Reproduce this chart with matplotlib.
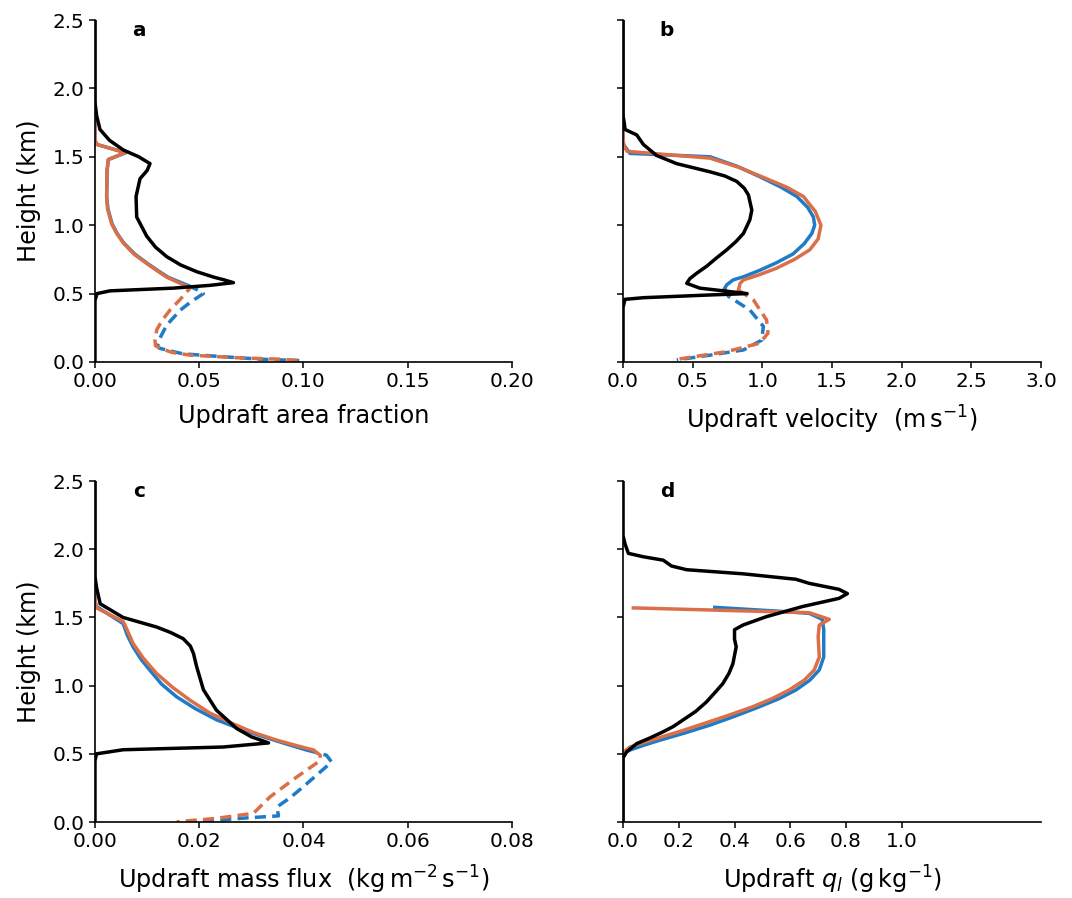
import matplotlib
matplotlib.use("Agg")
import matplotlib.pyplot as plt

# colours of the two model runs
blue = '#1f7bc6'
orange = '#da6f48'

# ---- panel a: updraft area fraction ----
a_black_h = [2.5, 1.90, 1.80, 1.70, 1.62, 1.55, 1.50, 1.45, 1.40, 1.34, 1.21, 1.06, 0.92, 0.84, 0.77, 0.71, 0.66, 0.62, 0.60, 0.58, 0.56, 0.54, 0.52, 0.50, 0.45, 0.0]
a_black_x = [0.0, 0.0, 0.0008, 0.0024, 0.007, 0.0136, 0.021, 0.0264, 0.025, 0.0216, 0.0197, 0.020, 0.0248, 0.029, 0.0344, 0.041, 0.0488, 0.057, 0.062, 0.0664, 0.055, 0.0376, 0.0072, 0.001, 0.0, 0.0]
a_blue_h = [2.5, 1.62, 1.59, 1.53, 1.48, 1.40, 1.21, 1.12, 1.01, 0.94, 0.87, 0.79, 0.72, 0.67, 0.62, 0.56]
a_blue_x = [0, 0, 0.001, 0.0148, 0.0064, 0.0058, 0.0056, 0.0062, 0.0082, 0.0106, 0.0138, 0.019, 0.0252, 0.030, 0.0350, 0.0445]
a_blue_dash_h = [0.56, 0.53, 0.50, 0.44, 0.38, 0.27, 0.17, 0.12, 0.10, 0.06, 0.04, 0.02, 0.01]
a_blue_dash_x = [0.0445, 0.0488, 0.052, 0.046, 0.041, 0.0344, 0.031, 0.030, 0.031, 0.042, 0.060, 0.080, 0.098]
a_orange_h = [2.5, 1.62, 1.59, 1.53, 1.48, 1.40, 1.21, 1.12, 1.01, 0.94, 0.87, 0.79, 0.72, 0.67, 0.62, 0.56]
a_orange_x = [0, 0, 0.001, 0.0144, 0.0064, 0.0058, 0.0056, 0.006, 0.008, 0.0104, 0.0136, 0.0186, 0.0248, 0.0295, 0.0344, 0.043]
a_orange_dash_h = [0.56, 0.54, 0.46, 0.38, 0.30, 0.234, 0.16, 0.12, 0.10, 0.07, 0.05, 0.03, 0.02, 0.01]
a_orange_dash_x = [0.043, 0.0456, 0.041, 0.036, 0.032, 0.0296, 0.0288, 0.029, 0.031, 0.037, 0.0456, 0.0696, 0.0895, 0.099]

# ---- panel b: updraft velocity ----
b_black_h = [2.5, 1.80, 1.74, 1.70, 1.66, 1.59, 1.51, 1.45, 1.39, 1.36, 1.32, 1.27, 1.22, 1.11, 1.04, 0.94, 0.88, 0.82, 0.76, 0.70, 0.65, 0.61, 0.575, 0.54, 0.50, 0.49, 0.47, 0.458, 0.40, 0.0]
b_black_x = [0, 0, 0.01, 0.014, 0.098, 0.146, 0.24, 0.385, 0.625, 0.73, 0.816, 0.87, 0.90, 0.924, 0.91, 0.864, 0.81, 0.744, 0.67, 0.60, 0.53, 0.48, 0.457, 0.55, 0.89, 0.625, 0.146, 0.014, 0, 0]
b_blue_h = [2.5, 1.60, 1.58, 1.525, 1.50, 1.43, 1.355, 1.28, 1.21, 1.13, 1.06, 1.0, 0.94, 0.865, 0.79, 0.725, 0.67, 0.625, 0.60, 0.565, 0.54]
b_blue_x = [0, 0, 0.01, 0.05, 0.625, 0.82, 0.98, 1.13, 1.247, 1.325, 1.366, 1.375, 1.355, 1.30, 1.22, 1.10, 0.98, 0.87, 0.79, 0.745, 0.73]
b_blue_dash_h = [0.54, 0.48, 0.38, 0.26, 0.16, 0.088, 0.05, 0.015]
b_blue_dash_x = [0.73, 0.756, 0.91, 1.007, 0.995, 0.864, 0.625, 0.385]
b_orange_h = [2.5, 1.62, 1.57, 1.54, 1.49, 1.42, 1.34, 1.275, 1.21, 1.10, 1.0, 0.90, 0.82, 0.75, 0.685, 0.635, 0.60, 0.575, 0.526]
b_orange_x = [0, 0, 0.01, 0.03, 0.625, 0.84, 1.03, 1.18, 1.294, 1.38, 1.42, 1.40, 1.34, 1.23, 1.10, 0.97, 0.864, 0.84, 0.828]
b_orange_dash_h = [0.526, 0.453, 0.307, 0.21, 0.137, 0.075, 0.015]
b_orange_dash_x = [0.828, 0.936, 1.03, 1.04, 0.98, 0.74, 0.36]

# ---- panel c: updraft mass flux ----
c_black_h = [2.5, 1.80, 1.72, 1.60, 1.50, 1.43, 1.39, 1.345, 1.29, 1.235, 1.14, 0.97, 0.82, 0.685, 0.625, 0.58, 0.55, 0.53, 0.50, 0.45, 0.0]
c_black_x = [0, 0, 0.0003, 0.001, 0.0054, 0.0118, 0.0145, 0.0169, 0.0183, 0.0189, 0.0195, 0.0208, 0.0233, 0.0272, 0.030, 0.0333, 0.0246, 0.0054, 0.0003, 0, 0]
c_blue_h = [2.5, 1.62, 1.58, 1.455, 1.37, 1.285, 1.195, 1.11, 1.01, 0.917, 0.83, 0.75, 0.685, 0.625, 0.575, 0.528]
c_blue_x = [0, 0, 0.0003, 0.0054, 0.0062, 0.0073, 0.0088, 0.0106, 0.0128, 0.0157, 0.0193, 0.0233, 0.0277, 0.0323, 0.0365, 0.0406]
c_blue_dash_h = [0.528, 0.49, 0.44, 0.35, 0.26, 0.18, 0.11, 0.045, 0.03, 0.015, 0.002]
c_blue_dash_x = [0.0406, 0.0444, 0.0454, 0.0427, 0.040, 0.0375, 0.0349, 0.0352, 0.029, 0.024, 0.0189]
c_orange_h = [2.5, 1.62, 1.57, 1.47, 1.44, 1.31, 1.20, 1.09, 0.99, 0.894, 0.80, 0.72, 0.655, 0.60, 0.562, 0.528]
c_orange_x = [0, 0, 0.0003, 0.0054, 0.0058, 0.0073, 0.0093, 0.0118, 0.0148, 0.0182, 0.022, 0.0265, 0.0305, 0.0349, 0.0385, 0.0419]
c_orange_dash_h = [0.528, 0.49, 0.45, 0.33, 0.185, 0.064, 0.027, 0.002]
c_orange_dash_x = [0.0419, 0.0432, 0.0432, 0.0387, 0.0336, 0.0304, 0.0233, 0.0157]

# ---- panel d: updraft liquid water ----
d_black_h = [2.5, 2.10, 2.04, 1.97, 1.945, 1.92, 1.877, 1.85, 1.82, 1.78, 1.75, 1.706, 1.675, 1.64, 1.58, 1.505, 1.444, 1.41, 1.34, 1.285, 1.16, 1.09, 1.015, 0.95, 0.88, 0.81, 0.748, 0.70, 0.662, 0.615, 0.575, 0.515, 0.47, 0.40, 0.0]
d_black_x = [0, 0, 0.007, 0.019, 0.0725, 0.144, 0.174, 0.228, 0.43, 0.62, 0.668, 0.775, 0.805, 0.775, 0.644, 0.513, 0.43, 0.40, 0.40, 0.406, 0.394, 0.38, 0.358, 0.33, 0.299, 0.26, 0.215, 0.18, 0.144, 0.095, 0.049, 0.013, 0.0, 0, 0]
d_blue_h = [1.574, 1.547, 1.53, 1.486, 1.41, 1.21, 1.115, 1.04, 0.968, 0.905, 0.845, 0.775, 0.71, 0.652, 0.60, 0.56, 0.528, 0.50, 0.45, 0.0]
d_blue_x = [0.329, 0.549, 0.668, 0.715, 0.72, 0.72, 0.704, 0.67, 0.62, 0.56, 0.489, 0.40, 0.311, 0.22, 0.132, 0.07, 0.025, 0.0, 0, 0]
d_orange_h = [1.57, 1.535, 1.486, 1.444, 1.36, 1.21, 1.115, 1.04, 0.968, 0.905, 0.845, 0.78, 0.72, 0.668, 0.62, 0.58, 0.55, 0.51, 0.45, 0.0]
d_orange_x = [0.037, 0.668, 0.74, 0.704, 0.70, 0.704, 0.686, 0.65, 0.596, 0.535, 0.465, 0.375, 0.287, 0.21, 0.132, 0.07, 0.025, 0, 0, 0]

lw = 2.5
dash = (0, (3.2, 1.8))


def style_ax(ax, xlim, xticks, xlabel, ylabel=True):
    ax.set_xlim(*xlim)
    ax.set_ylim(0, 2.5)
    ax.set_xticks(xticks)
    ax.set_yticks([0.0, 0.5, 1.0, 1.5, 2.0, 2.5])
    ax.spines['top'].set_visible(False)
    ax.spines['right'].set_visible(False)
    for s in ['left', 'bottom']:
        ax.spines[s].set_linewidth(1.2)
    ax.tick_params(labelsize=14.4, length=4.5, width=1.1, pad=3)
    ax.set_xlabel(xlabel, fontsize=17.3, labelpad=9)
    if ylabel:
        ax.set_ylabel('Height (km)', fontsize=17.3, labelpad=8)
    else:
        ax.tick_params(labelleft=False)


fig = plt.figure(figsize=(10.72, 8.98), dpi=100)
ax_a = fig.add_axes([0.0886, 0.5969, 0.389, 0.3808])
ax_b = fig.add_axes([0.5812, 0.5969, 0.39, 0.3808])
ax_c = fig.add_axes([0.0886, 0.0846, 0.389, 0.3797])
ax_d = fig.add_axes([0.5812, 0.0846, 0.39, 0.3797])

# a
ax_a.plot(a_blue_x, a_blue_h, color=blue, lw=lw)
ax_a.plot(a_blue_dash_x, a_blue_dash_h, color=blue, lw=lw, ls=dash)
ax_a.plot(a_orange_x, a_orange_h, color=orange, lw=lw)
ax_a.plot(a_orange_dash_x, a_orange_dash_h, color=orange, lw=lw, ls=dash)
ax_a.plot(a_black_x, a_black_h, color='k', lw=lw)
style_ax(ax_a, (0, 0.2), [0, 0.05, 0.10, 0.15, 0.20], 'Updraft area fraction')
ax_a.set_xticklabels(['0.00', '0.05', '0.10', '0.15', '0.20'])

# b
ax_b.plot(b_blue_x, b_blue_h, color=blue, lw=lw)
ax_b.plot(b_blue_dash_x, b_blue_dash_h, color=blue, lw=lw, ls=dash)
ax_b.plot(b_orange_x, b_orange_h, color=orange, lw=lw)
ax_b.plot(b_orange_dash_x, b_orange_dash_h, color=orange, lw=lw, ls=dash)
ax_b.plot(b_black_x, b_black_h, color='k', lw=lw)
style_ax(ax_b, (0, 3.0), [0, 0.5, 1.0, 1.5, 2.0, 2.5, 3.0],
         r'Updraft velocity  $\mathrm{(m\,s^{-1})}$', ylabel=False)

# c
ax_c.plot(c_blue_x, c_blue_h, color=blue, lw=lw)
ax_c.plot(c_blue_dash_x, c_blue_dash_h, color=blue, lw=lw, ls=dash)
ax_c.plot(c_orange_x, c_orange_h, color=orange, lw=lw)
ax_c.plot(c_orange_dash_x, c_orange_dash_h, color=orange, lw=lw, ls=dash)
ax_c.plot(c_black_x, c_black_h, color='k', lw=lw)
style_ax(ax_c, (0, 0.08), [0, 0.02, 0.04, 0.06, 0.08],
         r'Updraft mass flux  $\mathrm{(kg\,m^{-2}\,s^{-1})}$')
ax_c.set_xticklabels(['0.00', '0.02', '0.04', '0.06', '0.08'])

# d
ax_d.plot(d_blue_x, d_blue_h, color=blue, lw=lw)
ax_d.plot(d_orange_x, d_orange_h, color=orange, lw=lw)
ax_d.plot(d_black_x, d_black_h, color='k', lw=lw)
style_ax(ax_d, (0, 1.5), [0, 0.2, 0.4, 0.6, 0.8, 1.0],
         r'Updraft $q_l$ $\mathrm{(g\,kg^{-1})}$', ylabel=False)

for ax, lab in zip([ax_a, ax_b, ax_c, ax_d], ['a', 'b', 'c', 'd']):
    ax.text(0.105, 0.97, lab, transform=ax.transAxes, fontsize=14.4,
            fontweight='bold', ha='center', va='center')

fig.savefig('out.png', dpi=100)
